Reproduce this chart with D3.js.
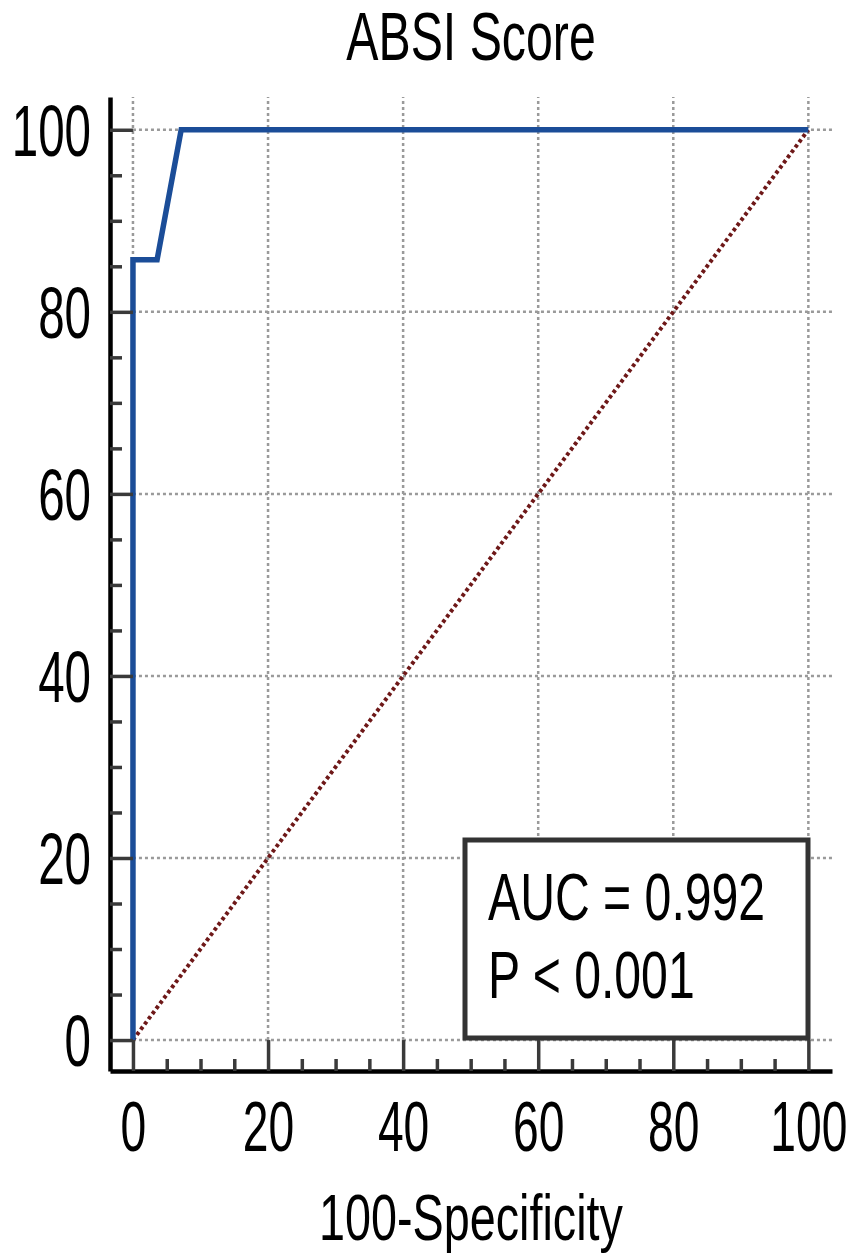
<!DOCTYPE html>
<html>
<head>
<meta charset="utf-8">
<script src="https://cdn.jsdelivr.net/npm/d3@7"></script>
<style>
  body { margin: 0; background: #fff; }
  text { font-family: "Liberation Sans", Arial, sans-serif; fill: #000; }
</style>
</head>
<body>
<div id="chart"></div>
<script>
// ROC curve points (100-Specificity, Sensitivity)
const fpr = [0, 0, 3.57, 7.14, 100];
const tpr = [0, 85.71, 85.71, 100, 100];
const majorTicks = [0, 20, 40, 60, 80, 100];
const minorTicks = d3.range(0, 101, 5).filter(v => v % 20 !== 0);
const chartTitle = "ABSI Score";
const xTitle = "100-Specificity";
const statLines = ["AUC = 0.992", "P < 0.001"];

const width = 858, height = 1258;
const numScale = 0.66;

const svg = d3.select("#chart").append("svg")
    .attr("width", width)
    .attr("height", height);

const x = d3.scaleLinear().domain([-3.4, 103.5]).range([110, 832]);
const y = d3.scaleLinear().domain([-3.4, 103.6]).range([1071, 97]);

// grid lines (dotted)
const grid = svg.append("g")
    .attr("stroke", "#9a9a9a")
    .attr("stroke-width", 2.5)
    .attr("stroke-dasharray", "3,3");

grid.selectAll(".vg").data(majorTicks).enter().append("line")
    .attr("x1", d => x(d)).attr("x2", d => x(d))
    .attr("y1", y(0)).attr("y2", y(103.6));

grid.selectAll(".hg").data(majorTicks).enter().append("line")
    .attr("x1", x(0)).attr("x2", x(103.5))
    .attr("y1", d => y(d)).attr("y2", d => y(d));

// reference diagonal
svg.append("line")
    .attr("x1", x(0)).attr("y1", y(0))
    .attr("x2", x(100)).attr("y2", y(100))
    .attr("stroke", "#6e1818")
    .attr("stroke-width", 4)
    .attr("stroke-dasharray", "3.5,3");

// ROC curve
const line = d3.line()
    .x((d, i) => x(fpr[i]))
    .y((d, i) => y(tpr[i]));

svg.append("path")
    .datum(fpr)
    .attr("d", line)
    .attr("fill", "none")
    .attr("stroke", "#1b4d98")
    .attr("stroke-width", 5.5)
    .attr("stroke-linejoin", "miter");

// axes
const majorLen = x(0) - x(-3.4);
const minorLen = 12;

const yAxis = svg.append("g")
    .attr("transform", `translate(${x(-3.4)},0)`)
    .call(d3.axisLeft(y).tickValues(majorTicks).tickSize(-majorLen).tickSizeOuter(0).tickPadding(19));

const xAxis = svg.append("g")
    .attr("transform", `translate(0,${y(-3.4)})`)
    .call(d3.axisBottom(x).tickValues(majorTicks).tickSize(-(y(-3.4) - y(0))).tickSizeOuter(0).tickPadding(0));

svg.append("g")
    .attr("transform", `translate(${x(-3.4)},0)`)
    .call(d3.axisLeft(y).tickValues(minorTicks).tickSize(-minorLen).tickSizeOuter(0).tickFormat(""))
    .call(g => g.select(".domain").remove());

svg.append("g")
    .attr("transform", `translate(0,${y(-3.4)})`)
    .call(d3.axisBottom(x).tickValues(minorTicks).tickSize(-minorLen).tickSizeOuter(0).tickFormat(""))
    .call(g => g.select(".domain").remove());

svg.selectAll(".tick line").attr("stroke", "#3a3a3a").attr("stroke-width", 3.5);
[yAxis, xAxis].forEach(a => a.select(".domain").attr("stroke", "#000").attr("stroke-width", 4.5));

yAxis.selectAll(".tick text")
    .attr("font-size", 72)
    .attr("x", -19 / numScale)
    .attr("dy", "0.36em")
    .attr("transform", `scale(${numScale},1)`);

xAxis.selectAll(".tick text")
    .attr("font-size", 70)
    .attr("y", 80)
    .attr("dy", 0)
    .attr("transform", `scale(${numScale},1)`);

svg.selectAll(".tick text").attr("fill", "#000").attr("font-family", "'Liberation Sans', Arial, sans-serif");

// stats box
const box = svg.append("g");
box.append("rect")
    .attr("x", 465).attr("y", 840)
    .attr("width", 343).attr("height", 198)
    .attr("fill", "#fff")
    .attr("stroke", "#333")
    .attr("stroke-width", 5);

box.selectAll("g.stat").data(statLines).enter().append("g")
    .attr("transform", (d, i) => `translate(488,${920 + i * 78}) scale(0.73,1)`)
    .append("text")
    .attr("font-size", 66)
    .text(d => d);

// titles
svg.append("g")
    .attr("transform", `translate(471,60) scale(0.71,1)`)
    .append("text")
    .attr("text-anchor", "middle")
    .attr("font-size", 68)
    .text(chartTitle);

svg.append("g")
    .attr("transform", `translate(471,1240) scale(0.73,1)`)
    .append("text")
    .attr("text-anchor", "middle")
    .attr("font-size", 64)
    .text(xTitle);
</script>
</body>
</html>
